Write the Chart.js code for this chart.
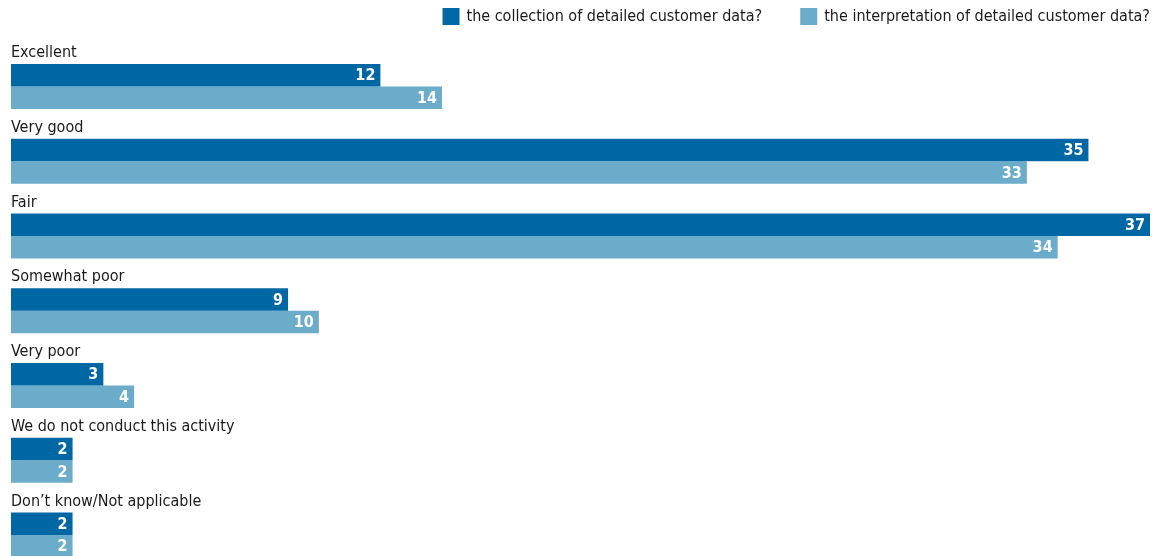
<!DOCTYPE html>
<html>
<head>
<meta charset="utf-8">
<script src="https://cdn.jsdelivr.net/npm/chart.js@4.4.1/dist/chart.umd.min.js"></script>
<style>
  html, body { margin: 0; padding: 0; background: #fff; }
  #wrap { width: 1162px; height: 556px; position: relative; }
</style>
</head>
<body>
<div id="wrap"><canvas id="ratingChart"></canvas></div>
<script>
const categories = [
  "Excellent",
  "Very good",
  "Fair",
  "Somewhat poor",
  "Very poor",
  "We do not conduct this activity",
  "Don\u2019t know/Not applicable"
];
const seriesNames = [
  "the collection of detailed customer data?",
  "the interpretation of detailed customer data?"
];
const collectionValues = [12, 35, 37, 9, 3, 2, 2];
const interpretationValues = [14, 33, 34, 10, 4, 2, 2];

const darkBlue = "#0067a5";
const lightBlue = "#6aacc9";
const fontFamily = "'DejaVu Sans Condensed', 'Liberation Sans Narrow', sans-serif";

// labels above each bar pair, value labels inside bar ends, legend top right
const annotate = {
  id: "annotate",
  afterDatasetsDraw(chart) {
    const ctx = chart.ctx;
    ctx.save();

    // category names
    const first = chart.getDatasetMeta(0).data;
    ctx.fillStyle = "#1a1a1a";
    ctx.font = "16px " + fontFamily;
    ctx.textAlign = "left";
    ctx.textBaseline = "alphabetic";
    first.forEach((bar, i) => {
      const top = bar.y - bar.height / 2;
      ctx.fillText(categories[i], chart.chartArea.left, top - 7);
    });

    // value labels
    ctx.fillStyle = "#ffffff";
    ctx.font = "bold 16px " + fontFamily;
    ctx.textAlign = "right";
    ctx.textBaseline = "middle";
    chart.data.datasets.forEach((ds, d) => {
      chart.getDatasetMeta(d).data.forEach((bar, i) => {
        ctx.fillText(String(ds.data[i]), bar.x - 5, bar.y + 1);
      });
    });

    // legend, laid out from the right edge
    ctx.font = "16px " + fontFamily;
    ctx.textAlign = "left";
    ctx.textBaseline = "middle";
    const box = 17, boxGap = 7, itemGap = 38, legendY = 8;
    let x = chart.chartArea.right;
    for (let d = chart.data.datasets.length - 1; d >= 0; d--) {
      const ds = chart.data.datasets[d];
      const w = ctx.measureText(ds.label).width;
      x -= w;
      ctx.fillStyle = "#1a1a1a";
      ctx.fillText(ds.label, x, legendY + box / 2);
      x -= boxGap + box;
      ctx.fillStyle = ds.backgroundColor;
      ctx.fillRect(x, legendY, box, box);
      x -= itemGap;
    }
    ctx.restore();
  }
};

new Chart(document.getElementById("ratingChart"), {
  type: "bar",
  data: {
    labels: categories,
    datasets: [
      { label: seriesNames[0], data: collectionValues, backgroundColor: darkBlue },
      { label: seriesNames[1], data: interpretationValues, backgroundColor: lightBlue }
    ]
  },
  options: {
    indexAxis: "y",
    responsive: true,
    maintainAspectRatio: false,
    animation: false,
    categoryPercentage: 0.602,
    barPercentage: 1.0,
    layout: { padding: { left: 11, right: 12, top: 86.5, bottom: 21 } },
    plugins: { legend: { display: false }, tooltip: { enabled: false } },
    datasets: { bar: { clip: false } },
    scales: {
      x: { display: false, min: 0, max: 37 },
      y: { display: false, offset: false }
    }
  },
  plugins: [annotate]
});
</script>
</body>
</html>
